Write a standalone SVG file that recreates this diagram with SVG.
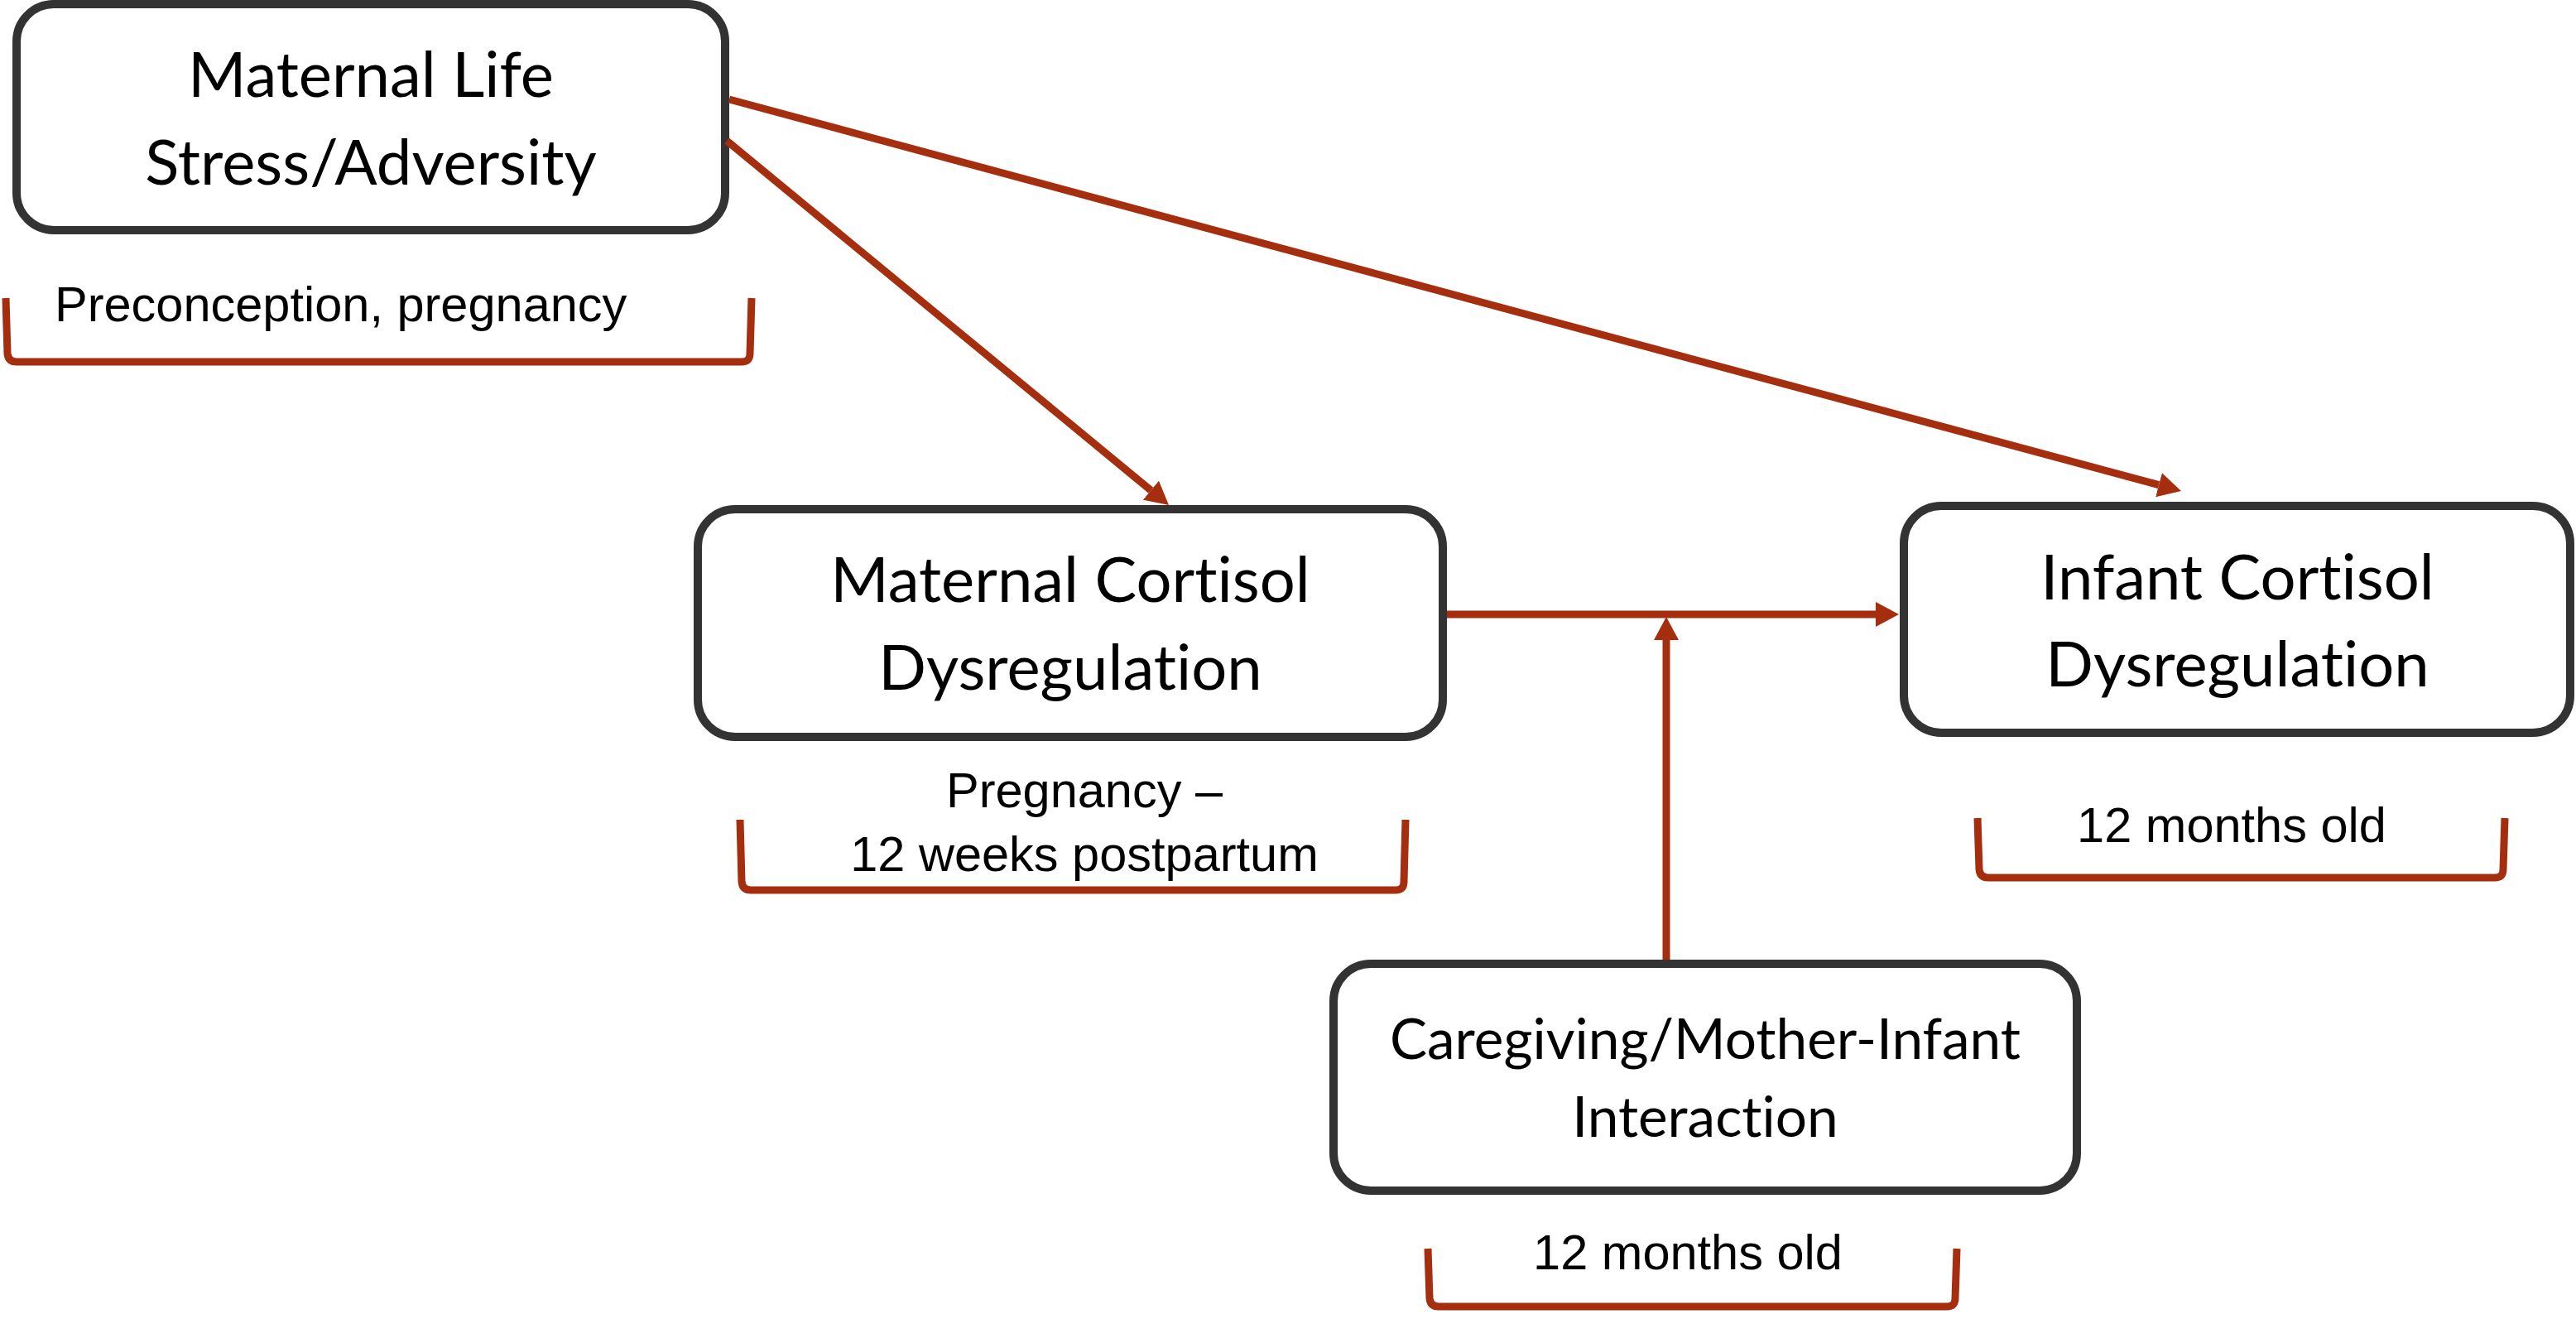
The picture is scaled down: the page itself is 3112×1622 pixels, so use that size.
<svg xmlns="http://www.w3.org/2000/svg" width="3112" height="1622" viewBox="0 0 3112 1622">
<style>
.box{fill:#ffffff;stroke:#333333;stroke-width:10}
.nt{font-family:Lato,"Open Sans","Noto Sans",sans-serif;font-size:76px;fill:#000000;text-anchor:middle;font-variant-ligatures:none}
.nt4{font-family:Lato,"Open Sans","Noto Sans",sans-serif;font-size:67.5px;fill:#000000;text-anchor:middle;font-variant-ligatures:none}
.lbl{font-family:"Liberation Sans",Arial,sans-serif;font-size:59.5px;fill:#000000}
.br{fill:none;stroke:#A52E0F;stroke-width:9}
.edge{fill:none;stroke:#A52E0F;stroke-width:9}
</style>
<defs>
<marker id="ah" markerUnits="userSpaceOnUse" markerWidth="28" markerHeight="30" refX="0" refY="15" orient="auto" viewBox="0 0 28 30">
<path d="M0,0 L28,15 L0,30 z" fill="#A52E0F"/>
</marker>
</defs>
<rect width="3112" height="1622" fill="#ffffff"/>
<g id="node-maternal-life-stress">
<rect class="box" x="20" y="5" width="856" height="273" rx="45" ry="45"/>
<text class="nt" x="448" y="117">Maternal Life</text>
<text class="nt" x="448" y="223">Stress/Adversity</text>
</g>
<g id="label-preconception">
<path class="br" d="M7 360 L9 427 Q10 437 20 437 L896 437 Q906 437 906 427 L908 360"/>
<text class="lbl" x="66" y="388">Preconception, pregnancy</text>
</g>
<g id="node-maternal-cortisol">
<rect class="box" x="843" y="615" width="900" height="275" rx="45" ry="45"/>
<text class="nt" x="1293" y="727">Maternal Cortisol</text>
<text class="nt" x="1293" y="833">Dysregulation</text>
</g>
<g id="label-pregnancy-postpartum">
<path class="br" d="M894 990 L896 1065 Q897 1075 907 1075 L1686 1075 Q1696 1075 1696 1065 L1698 990"/>
<text class="lbl" x="1310" y="975" text-anchor="middle">Pregnancy –</text>
<text class="lbl" x="1310" y="1052" text-anchor="middle">12 weeks postpartum</text>
</g>
<g id="node-infant-cortisol">
<rect class="box" x="2300" y="611" width="805" height="274" rx="45" ry="45"/>
<text class="nt" x="2703" y="724">Infant Cortisol</text>
<text class="nt" x="2703" y="829">Dysregulation</text>
</g>
<g id="label-infant-12mo">
<path class="br" d="M2389 988 L2391 1050 Q2392 1060 2402 1060 L3014 1060 Q3024 1060 3024 1050 L3026 988"/>
<text class="lbl" x="2696" y="1017" text-anchor="middle">12 months old</text>
</g>
<g id="node-caregiving">
<rect class="box" x="1611" y="1164" width="898" height="274" rx="45" ry="45"/>
<text class="nt4" x="2060" y="1279">Caregiving/Mother-Infant</text>
<text class="nt4" x="2060" y="1373">Interaction</text>
</g>
<g id="label-caregiving-12mo">
<path class="br" d="M1725 1508 L1727 1568 Q1728 1578 1738 1578 L2352 1578 Q2362 1578 2362 1568 L2364 1508"/>
<text class="lbl" x="2039" y="1533" text-anchor="middle">12 months old</text>
</g>
<g id="connectors">
<line class="edge" x1="878" y1="170" x2="1390.4" y2="592.2" marker-end="url(#ah)"/>
<line class="edge" x1="881" y1="120" x2="2608" y2="585.7" marker-end="url(#ah)"/>
<line class="edge" x1="1748" y1="742" x2="2266" y2="742" marker-end="url(#ah)"/>
<line class="edge" x1="2013" y1="1159" x2="2013" y2="773" marker-end="url(#ah)"/>
</g>
</svg>
